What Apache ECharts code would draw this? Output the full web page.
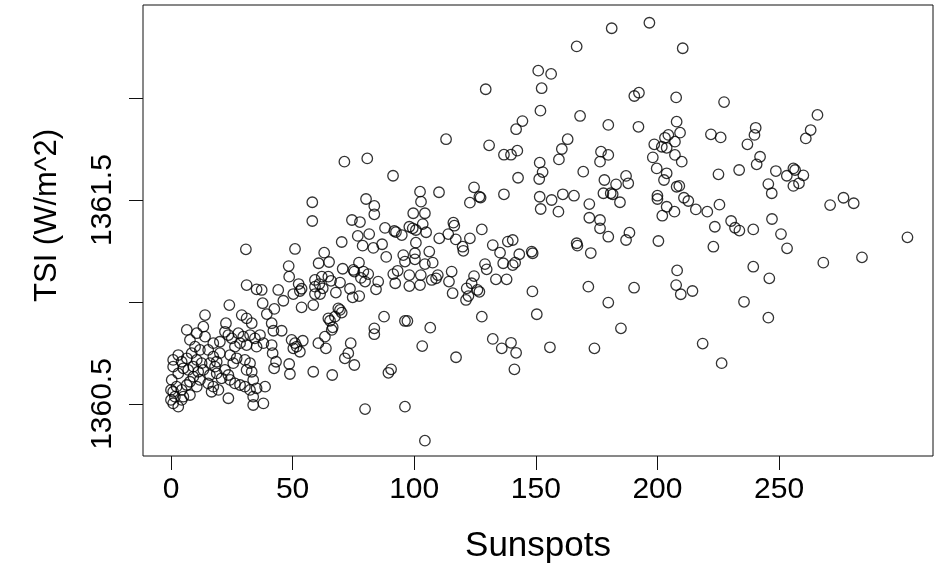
<!DOCTYPE html>
<html>
<head>
<meta charset="utf-8">
<script src="https://cdn.jsdelivr.net/npm/echarts@6/dist/echarts.min.js"></script>
<style>html,body{margin:0;padding:0;background:#fff;}#c{width:935px;height:573px;}</style>
</head>
<body>
<div id="c"></div>
<script>
// Sunspot number (x) and TSI in W/m^2 (y)
const sunspots = [
71.3,80.7,91.3,58.1,58.1,80.2,83.6,83.6,74.4,77.7,88.0,91.8,92.5,76.8,81.5,78.8,83.2,86.8,70.2,51.0,63.0,60.7,65.0,77.3,88.5,48.4,70.6,75.0,75.4,79.1,81.1,78.1,79.8,85.2,91.4,93.2,92.2,48.6,52.5,53.7,59.2,62.0,64.7,65.8,59.2,61.0,62.4,69.5,73.6,84.3,44.1,37.3,
50.3,53.0,59.2,61.3,67.8,74.7,77.4,37.7,39.4,42.5,46.2,53.7,58.5,69.5,70.2,68.8,64.7,65.4,67.4,66.1,66.5,63.3,60.6,63.7,41.4,42.1,45.5,41.4,41.8,43.2,42.4,49.6,51.0,51.7,53.0,54.2,50.3,48.6,48.9,58.5,66.3,71.5,72.9,73.9,75.4,83.6,83.6,87.6,89.4,90.5,38.0,79.8,
24.0,14.0,22.6,29.1,31.1,33.2,13.3,6.5,10.6,7.8,14.0,22.2,23.6,25.0,27.7,29.7,32.5,34.5,36.6,17.4,20.1,15.3,26.3,28.4,31.1,35.2,38.0,9.9,11.9,8.5,3.0,0.9,4.4,6.5,17.4,18.8,18.1,16.0,20.1,24.3,25.6,27.0,10.6,12.6,9.2,13.3,11.2,30.4,32.5,31.1,33.2,0.9,5.1,7.1,3.0,18.8,22.2,23.6,16.0,20.8,24.3,26.3,28.4,30.4,32.5,33.8,33.8,35.2,38.7,15.3,17.4,19.5,16.7,23.6,33.8,0.3,2.3,0.9,4.4,6.5,1.6,4.4,0.9,3.0,5.1,7.8,0,0,9.2,11.9,7.8,10.6,
30.8,31.1,35.2,
151.0,156.3,129.4,152.4,151.9,144.5,141.9,113.1,130.8,136.9,139.8,142.4,151.6,152.8,151.4,142.7,102.4,102.8,110.2,124.6,126.8,127.3,122.9,136.9,151.6,152.0,99.6,104.4,98.0,99.4,100.7,103.5,104.9,94.9,100.7,116.1,116.5,114.0,117.1,110.3,122.9,127.8,119.9,120.2,132.3,138.5,140.5,135.3,143.2,148.3,148.7,106.2,100.3,95.5,
96.2,100.3,104.4,107.6,98.0,102.7,98.0,102.4,107.2,109.7,109.0,115.4,114.3,115.8,124.6,121.6,123.6,121.3,126.0,126.8,122.3,129.1,129.8,133.6,138.0,136.6,140.5,141.5,148.6,150.4,96.2,97.2,106.6,103.3,127.8,117.2,132.3,136.0,139.8,141.9,141.2,96.2,104.4,
196.7,181.2,166.8,210.4,190.5,192.4,207.7,168.2,179.8,192.2,207.9,163.1,160.7,159.5,176.8,179.8,176.4,169.5,198.7,201.8,203.1,204.5,209.3,207.2,203.8,198.1,207.2,210.0,199.7,203.8,
178.2,183.0,188.0,187.1,202.7,209.0,207.9,156.5,161.1,165.7,159.3,172.0,177.8,180.8,181.6,184.6,172.0,176.4,176.4,179.8,188.5,187.1,166.8,167.1,172.6,200.0,200.0,203.8,202.0,207.0,210.9,212.7,215.8,220.5,200.4,208.1,207.7,209.6,214.4,171.6,190.4,179.8,185.0,155.8,174.1,218.6,
227.4,265.8,263.0,261.0,222.0,226.0,240.4,239.9,237.0,242.2,240.8,225.1,233.6,248.7,253.2,255.9,256.6,260.0,258.2,255.9,245.6,247.0,225.5,271.0,276.5,280.7,
230.3,231.9,233.7,239.4,223.6,247.1,250.8,253.3,223.0,239.4,246.0,235.6,245.6,226.4,268.2,284.1,302.8
];
const tsi = [
1361.688,1361.704,1361.619,1361.489,1361.397,1361.505,1361.471,1361.430,1361.402,1361.392,1361.363,1361.348,1361.343,1361.324,1361.333,1361.276,1361.265,1361.283,1361.294,1361.260,1361.242,1361.190,1361.196,1361.193,1361.221,1361.176,1361.163,1361.157,1361.149,1361.149,1361.137,1361.118,1361.100,1361.100,1361.137,1361.153,1361.092,1361.124,1361.088,1361.065,1361.108,1361.124,1361.124,1361.104,1361.075,1361.088,1361.067,1361.095,1361.065,1361.062,1361.059,1361.059,
1361.039,1361.054,1361.039,1361.039,1361.046,1361.023,1361.029,1360.994,1360.941,1360.966,1361.006,1360.974,1360.985,1360.961,1360.948,1360.969,1360.920,1360.908,1360.928,1360.863,1360.876,1360.830,1360.798,1360.773,1360.896,1360.859,1360.859,1360.789,1360.749,1360.707,1360.675,1360.814,1360.798,1360.781,1360.756,1360.810,1360.773,1360.696,1360.647,1360.658,1360.642,1360.724,1360.749,1360.798,1360.691,1360.871,1360.842,1360.928,1360.653,1360.670,1360.503,1360.475,
1360.985,1360.936,1360.896,1360.936,1360.920,1360.896,1360.879,1360.863,1360.847,1360.814,1360.830,1360.854,1360.838,1360.822,1360.847,1360.830,1360.838,1360.822,1360.838,1360.798,1360.805,1360.765,1360.781,1360.798,1360.789,1360.781,1360.798,1360.781,1360.765,1360.749,1360.740,1360.716,1360.707,1360.724,1360.732,1360.707,1360.683,1360.700,1360.749,1360.740,1360.700,1360.724,1360.716,1360.700,1360.683,1360.667,1360.658,1360.716,1360.700,1360.667,1360.658,1360.683,1360.675,1360.667,1360.650,1360.650,1360.667,1360.642,1360.642,1360.626,1360.618,1360.601,1360.593,1360.585,1360.569,1360.536,1360.618,1360.577,1360.585,1360.601,1360.585,1360.569,1360.560,1360.528,1360.495,1360.618,1360.585,1360.560,1360.569,1360.593,1360.536,1360.520,1360.503,1360.487,1360.536,1360.544,1360.569,1360.520,1360.634,1360.618,1360.609,1360.585,
1361.258,1361.083,1361.062,
1362.134,1362.118,1362.043,1362.048,1361.938,1361.887,1361.847,1361.798,1361.768,1361.722,1361.722,1361.742,1361.683,1361.637,1361.603,1361.609,1361.541,1361.492,1361.538,1361.562,1361.516,1361.512,1361.487,1361.528,1361.516,1361.456,1361.435,1361.435,1361.369,1361.361,1361.353,1361.382,1361.342,1361.328,1361.291,1361.389,1361.374,1361.333,1361.307,1361.312,1361.312,1361.356,1361.271,1361.251,1361.279,1361.296,1361.304,1361.242,1361.234,1361.247,1361.239,1361.247,1361.239,1361.230,
1361.198,1361.209,1361.186,1361.193,1361.132,1361.132,1361.078,1361.083,1361.108,1361.132,1361.116,1361.149,1361.100,1361.043,1361.127,1361.067,1361.092,1361.010,1361.059,1361.050,1361.029,1361.186,1361.160,1361.111,1361.111,1361.190,1361.181,1361.193,1361.052,1360.940,1360.907,1360.907,1360.874,1360.784,1360.928,1360.729,1360.819,1360.773,1360.800,1360.751,1360.670,1360.487,1360.320,
1362.369,1362.342,1362.253,1362.244,1362.010,1362.026,1362.003,1361.912,1361.868,1361.859,1361.884,1361.798,1361.750,1361.699,1361.737,1361.721,1361.688,1361.639,1361.773,1361.761,1361.805,1361.819,1361.830,1361.786,1361.756,1361.709,1361.721,1361.688,1361.655,1361.631,
1361.598,1361.577,1361.582,1361.618,1361.598,1361.569,1361.565,1361.500,1361.528,1361.521,1361.443,1361.480,1361.533,1361.533,1361.528,1361.489,1361.413,1361.402,1361.361,1361.320,1361.340,1361.304,1361.288,1361.276,1361.240,1361.521,1361.505,1361.467,1361.423,1361.443,1361.511,1361.495,1361.454,1361.443,1361.299,1361.155,1361.083,1361.038,1361.054,1361.075,1361.070,1360.997,1360.871,1360.778,1360.773,1360.796,
1361.980,1361.917,1361.843,1361.802,1361.822,1361.807,1361.854,1361.819,1361.773,1361.712,1361.675,1361.626,1361.647,1361.642,1361.619,1361.655,1361.647,1361.621,1361.582,1361.569,1361.578,1361.533,1361.477,1361.475,1361.511,1361.484,
1361.397,1361.364,1361.350,1361.356,1361.369,1361.407,1361.333,1361.263,1361.271,1361.173,1361.116,1361.001,1360.923,1360.700,1361.193,1361.219,1361.317
];
const xTicks = [0, 50, 100, 150, 200, 250];
const yTicks = [1360.5, 1361.0, 1361.5, 1362.0];
const yLabels = [1360.5, 1361.5];
const xTitle = 'Sunspots';
const yTitle = 'TSI (W/m^2)';

const points = sunspots.map((s, i) => [s, tsi[i]]);
const FONT = "'Liberation Sans', Arial, sans-serif";
const INK = '#111';

const chart = echarts.init(document.getElementById('c'), null, {renderer: 'canvas'});
chart.setOption({
  animation: false,
  backgroundColor: '#fff',
  grid: {left: 143, right: 2, top: 5, bottom: 117, show: true, borderColor: INK, borderWidth: 1, backgroundColor: 'transparent'},
  xAxis: {
    type: 'value', min: -11.5, max: 313.3,
    name: xTitle, nameLocation: 'middle', nameGap: 73,
    nameTextStyle: {fontFamily: FONT, fontSize: 35, color: '#000'},
    axisLine: {show: false, onZero: false},
    splitLine: {show: false},
    axisTick: {show: true, length: 14, customValues: xTicks, lineStyle: {color: INK, width: 1}},
    axisLabel: {customValues: xTicks, fontFamily: FONT, fontSize: 30, color: '#000', margin: 19}
  },
  yAxis: {
    type: 'value', min: 1360.245, max: 1362.456,
    name: yTitle, nameLocation: 'middle', nameGap: 80, nameRotate: 90,
    nameTextStyle: {fontFamily: FONT, fontSize: 31, color: '#000', padding: [0, 0, 0, 30]},
    axisLine: {show: false, onZero: false},
    splitLine: {show: false},
    axisTick: {show: true, length: 14, customValues: yTicks, lineStyle: {color: INK, width: 1}},
    axisLabel: {customValues: yLabels, rotate: 90, fontFamily: FONT, fontSize: 30, color: '#000', margin: 25,
      formatter: v => v.toFixed(1)}
  },
  series: [{
    type: 'scatter',
    data: points,
    symbol: 'circle',
    symbolSize: 10.5,
    itemStyle: {color: 'rgba(0,0,0,0)', borderColor: '#000', borderWidth: 1.3},
    emphasis: {disabled: true}
  }]
});
</script>
</body>
</html>
